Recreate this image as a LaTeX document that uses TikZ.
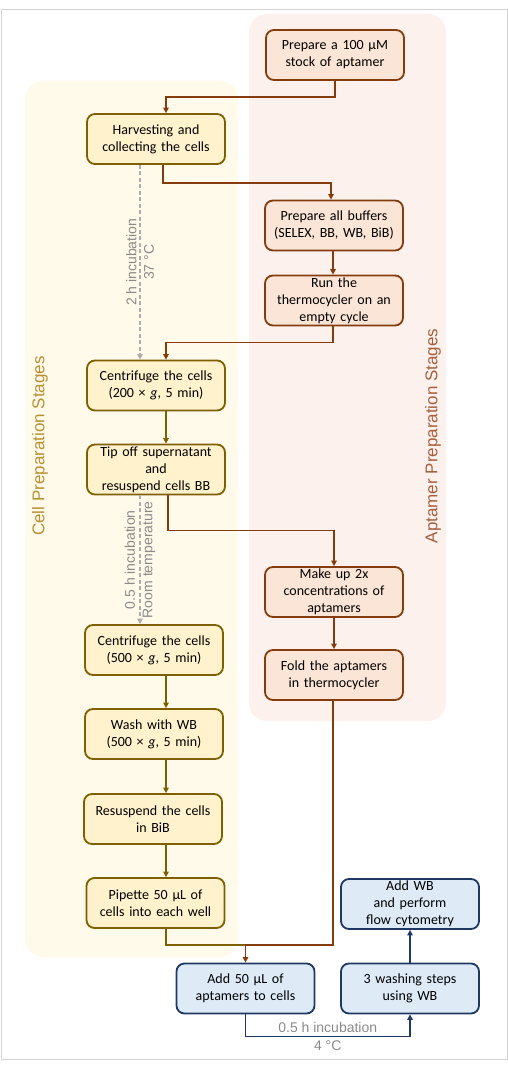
\documentclass[tikz,border=0pt]{standalone}
\usepackage{fontspec}
\setmainfont{Carlito}
\newfontfamily\arialfont{Liberation Sans}
\usetikzlibrary{arrows.meta,calc}
\definecolor{cellfill}{HTML}{FFF2CC}
\definecolor{celldraw}{HTML}{7F6000}
\definecolor{aptfill}{HTML}{FBE5D6}
\definecolor{aptdraw}{HTML}{843C0C}
\definecolor{bluefill}{HTML}{DEEBF7}
\definecolor{bluedraw}{HTML}{203864}
\definecolor{cellbg}{HTML}{FFFAEA}
\definecolor{aptbg}{HTML}{FDF1EE}
\definecolor{celllab}{RGB}{184,144,48}
\definecolor{aptlab}{RGB}{165,95,60}
\definecolor{dashgray}{HTML}{ADADAD}
\definecolor{labgray}{HTML}{8A8A8A}
\definecolor{framegray}{HTML}{D4D4D4}
\begin{document}
\begin{tikzpicture}[x=1pt,y=-1pt,
  box/.style={rectangle, rounded corners=8pt, line width=1.8pt, minimum width=138pt, minimum height=50pt, text width=128pt, align=center, inner xsep=5pt, inner ysep=1pt, font=\fontsize{14}{17}\selectfont},
  cellbox/.style={box, draw=celldraw, fill=cellfill},
  aptbox/.style={box, draw=aptdraw, fill=aptfill},
  bluebox/.style={box, draw=bluedraw, fill=bluefill},
  conn/.style={line width=1.6pt, -{Triangle[length=5.5pt,width=5.5pt]}},
  cellarrow/.style={conn, draw=celldraw},
  aptarrow/.style={conn, draw=aptdraw},
  bluearrow/.style={conn, draw=bluedraw},
  cellline/.style={line width=1.6pt, draw=celldraw},
  dasharrow/.style={conn, draw=dashgray, line width=1.4pt, dash pattern=on 4pt off 2.5pt},
  inclabel/.style={font=\arialfont\fontsize{14}{17.5}\selectfont, text=labgray, align=center, inner sep=0pt},
  stagelabel/.style={rotate=90, font=\arialfont\fontsize{17}{20}\selectfont, inner sep=0pt}
]
\useasboundingbox (0,0) rectangle (508,1070);
\draw[framegray, line width=1pt] (1,10) rectangle (507,1059);
% stage backgrounds
\fill[cellbg, rounded corners=18pt] (25,81) rectangle (238,957);
\fill[aptbg, rounded corners=18pt] (249,14) rectangle (446,721);
\node[stagelabel, text=celllab] (celllabel) at (40,446) {Cell Preparation Stages};
\node[stagelabel, text=aptlab] (aptlabel) at (433,436) {Aptamer Preparation Stages};

% nodes
\node[aptbox] (p1) at (335,55) {Prepare a 100 µM\\stock of aptamer};
\node[cellbox] (c1) at (156,139) {Harvesting and\\collecting the cells};
\node[aptbox] (p2) at (334,225.5) {Prepare all buffers\\(SELEX, BB, WB, BiB)};
\node[aptbox] (p3) at (334,300.5) {Run the\\thermocycler on an\\empty cycle};
\node[cellbox] (c2) at (156,385.5) {Centrifuge the cells\\(200 × \textit{g}, 5 min)};
\node[cellbox] (c3) at (156,469.5) {Tip off supernatant\\and\\resuspend cells BB};
\node[aptbox] (p4) at (334,592) {Make up 2x\\concentrations of\\aptamers};
\node[aptbox] (p5) at (334,675) {Fold the aptamers\\in thermocycler};
\node[cellbox] (c4) at (154,650) {Centrifuge the cells\\(500 × \textit{g}, 5 min)};
\node[cellbox] (c5) at (154,734) {Wash with WB\\(500 × \textit{g}, 5 min)};
\node[cellbox] (c6) at (153,819) {Resuspend the cells\\in BiB};
\node[cellbox] (c7) at (155.5,903) {Pipette 50 µL of\\cells into each well};
\node[bluebox] (b1) at (245.5,988.5) {Add 50 µL of\\aptamers to cells};
\node[bluebox] (b2) at (410,988.5) {3 washing steps\\using WB};
\node[bluebox] (b3) at (410,904) {Add WB\\and perform\\flow cytometry};

\coordinate (colx) at (166,0);
\coordinate (dashx) at (140,0);
\coordinate (merge) at (245.5,945);

% connectors
\draw[aptarrow] (p1.south) -- ++(0,16) -| (c1.north -| colx);
\draw[aptarrow] ($(c1.south)+(7,0)$) -- ++(0,18) -| ($(p2.north)+(-3,0)$);
\draw[aptarrow] ($(p2.south)+(-1,0)$) -- ($(p3.north)+(-1,0)$);
\draw[aptarrow] ($(p3.south)+(-1,0)$) -- ++(0,16) -| (c2.north -| colx);
\draw[cellarrow] (c2.south -| colx) -- (c3.north -| colx);
\draw[aptarrow] ($(c3.south)+(12,0)$) -- ++(0,35) -| (p4.north);
\draw[aptarrow] (p4.south) -- (p5.north);
\draw[dasharrow] (c1.south -| dashx) -- (c2.north -| dashx)
  node[midway, rotate=90, inclabel] (lab1) {2 h incubation\\37 °C};
\draw[dasharrow] (c3.south -| dashx) -- (c4.north -| dashx)
  node[midway, rotate=90, inclabel] (lab2) {0.5 h incubation\\Room temperature};
\draw[cellarrow] (c4.south -| colx) -- (c5.north -| colx);
\draw[cellarrow] (c5.south -| colx) -- (c6.north -| colx);
\draw[cellarrow] (c6.south -| colx) -- (c7.north -| colx);
\draw[cellline] (c7.south -| colx) -- (colx |- merge) -- (merge);
\draw[aptarrow] ($(p5.south)+(-1,0)$) -- ($(p5.south |- merge)+(-1,0)$) -- (merge) -- (b1.north);
\draw[bluearrow] (b1.south) -- ++(0,22) coordinate (bturn) -| (b2.south);
\node[inclabel] (lab3) at ($(bturn)!0.5!(bturn -| b2.south)$) {0.5 h incubation\\4 °C};
\draw[bluearrow] (b2.north) -- (b3.south);
\end{tikzpicture}
\end{document}
